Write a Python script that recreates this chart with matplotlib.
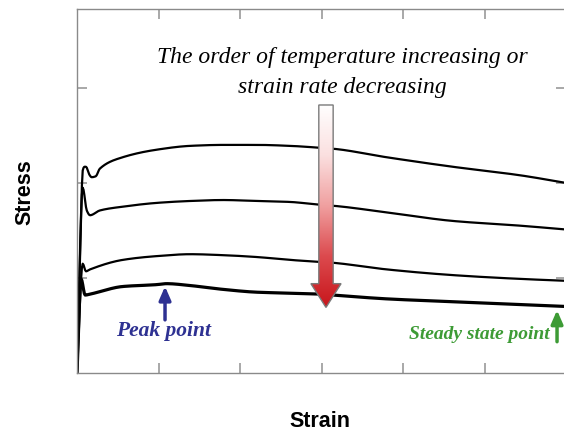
import numpy as np
import matplotlib
matplotlib.use("Agg")
import matplotlib.pyplot as plt
from matplotlib.patches import Polygon

# strain / stress values (arbitrary units)
strain_1 = [0, 0.004, 0.007, 0.009, 0.011, 0.015, 0.018, 0.023, 0.028, 0.056, 0.098,
            0.139, 0.179, 0.221, 0.261, 0.298, 0.314, 0.380, 0.461, 0.544, 0.600]
stress_1 = [0, 131, 213, 217, 217, 209, 206, 207, 215, 227, 235,
            239, 240, 240, 239, 237, 236, 227, 217, 208, 200]

strain_2 = [0, 0.007, 0.012, 0.016, 0.028, 0.056, 0.098, 0.139, 0.179, 0.221,
            0.261, 0.298, 0.314, 0.380, 0.461, 0.544, 0.600]
stress_2 = [0, 195, 171, 166, 171, 175, 179, 181, 182, 181,
            180, 177, 176, 169, 160, 155, 151]

strain_3 = [0, 0.007, 0.011, 0.016, 0.056, 0.098, 0.139, 0.179, 0.221,
            0.261, 0.298, 0.314, 0.380, 0.461, 0.544, 0.600]
stress_3 = [0, 115, 107, 109, 119, 123, 125, 124, 122,
            119, 117, 116, 109, 103, 99, 97]

strain_4 = [0, 0.005, 0.010, 0.016, 0.056, 0.098, 0.110, 0.139, 0.179, 0.221,
            0.261, 0.298, 0.314, 0.380, 0.461, 0.544, 0.600]
stress_4 = [0, 99, 82, 83, 91, 93, 94, 92, 88, 85,
            84, 83, 82, 78, 75, 72, 70]

x_ticks = [0.1, 0.2, 0.3, 0.4, 0.5]
y_ticks = [100, 200, 300]


def smooth_line(x, y, n=600):
    """Monotone cubic (PCHIP) drawing of the read points, so the curve has no kinks."""
    x = np.asarray(x, float)
    y = np.asarray(y, float)
    h = np.diff(x)
    d = np.diff(y) / h
    m = np.zeros_like(y)
    for i in range(1, len(x) - 1):
        if d[i - 1] * d[i] > 0:
            w1 = 2 * h[i] + h[i - 1]
            w2 = h[i] + 2 * h[i - 1]
            m[i] = (w1 + w2) / (w1 / d[i - 1] + w2 / d[i])
    m[0], m[-1] = d[0], d[-1]
    xs = np.linspace(x[0], x[-1], n)
    k = np.clip(np.searchsorted(x, xs) - 1, 0, len(x) - 2)
    t = (xs - x[k]) / h[k]
    h00 = 2 * t**3 - 3 * t**2 + 1
    h10 = t**3 - 2 * t**2 + t
    h01 = -2 * t**3 + 3 * t**2
    h11 = t**3 - t**2
    ys = h00 * y[k] + h10 * h[k] * m[k] + h01 * y[k + 1] + h11 * h[k] * m[k + 1]
    return xs, ys


fig = plt.figure(figsize=(5.64, 4.35), dpi=100)
ax = fig.add_axes([77 / 564, 61 / 435, 489 / 564, 364 / 435])

for sx, sy, lw in [(strain_1, stress_1, 1.6), (strain_2, stress_2, 1.6),
                   (strain_3, stress_3, 1.6), (strain_4, stress_4, 2.3)]:
    ax.plot(*smooth_line(sx, sy), color="black", lw=lw)

ax.set_xlim(0, 0.6)
ax.set_ylim(0, 383)
ax.set_xticks(x_ticks)
ax.set_yticks(y_ticks)
ax.tick_params(direction="in", length=7, width=1.2, color="#9a9a9a",
               top=True, right=True, labelbottom=False, labelleft=False)
for sp in ax.spines.values():
    sp.set_color("#8a8a8a")
    sp.set_linewidth(1.0)

# red gradient arrow
xc, hw, headw = 0.3055, 0.0088, 0.0185
y_top, y_head, y_tip = 282, 94, 69
verts = [(xc - hw, y_top), (xc + hw, y_top), (xc + hw, y_head), (xc + headw, y_head),
         (xc, y_tip), (xc - headw, y_head), (xc - hw, y_head)]
arrow = Polygon(verts, closed=True, facecolor="none", edgecolor="#7a7a7a", lw=1.0, zorder=4)
ax.add_patch(arrow)
grad = np.linspace(0, 1, 256).reshape(-1, 1)
cmap = matplotlib.colors.LinearSegmentedColormap.from_list(
    "wr", ["#ffffff", "#fbe0e0", "#f0a0a0", "#dc4a4e", "#c8161c"])
img = ax.imshow(grad, extent=(xc - headw, xc + headw, y_tip, y_top), origin="upper",
                cmap=cmap, aspect="auto", zorder=3)
img.set_clip_path(arrow)

serif = ["Liberation Serif", "DejaVu Serif"]
ax.text(0.542, 0.828, "The order of temperature increasing or\nstrain rate decreasing",
        transform=ax.transAxes, ha="center", va="center", fontsize=17,
        style="italic", family=serif, linespacing=1.55)

# peak point
ax.annotate("", xy=(0.108, 94), xytext=(0.108, 53),
            arrowprops=dict(arrowstyle="-|>,head_width=0.35,head_length=0.8",
                            color="#2e3192", lw=2.5))
ax.text(0.106, 45, "Peak point", ha="center", va="center", fontsize=15.5,
        style="italic", weight="bold", family=serif, color="#2e3192")

# steady state point
ax.annotate("", xy=(0.589, 69), xytext=(0.589, 30),
            arrowprops=dict(arrowstyle="-|>,head_width=0.35,head_length=0.8",
                            color="#3d9b35", lw=2.5))
ax.text(0.580, 42, "Steady state point", ha="right", va="center", fontsize=14,
        style="italic", weight="bold", family=serif, color="#3d9b35")

sans = ["Liberation Sans", "DejaVu Sans"]
fig.text(320 / 564, 1 - 422 / 435, "Strain", ha="center", va="center",
         fontsize=15.5, weight="bold", family=sans)
fig.text(25 / 564, 1 - 192 / 435, "Stress", ha="center", va="center",
         fontsize=15.5, weight="bold", family=sans, rotation=90)

fig.savefig("out.png", dpi=100)
